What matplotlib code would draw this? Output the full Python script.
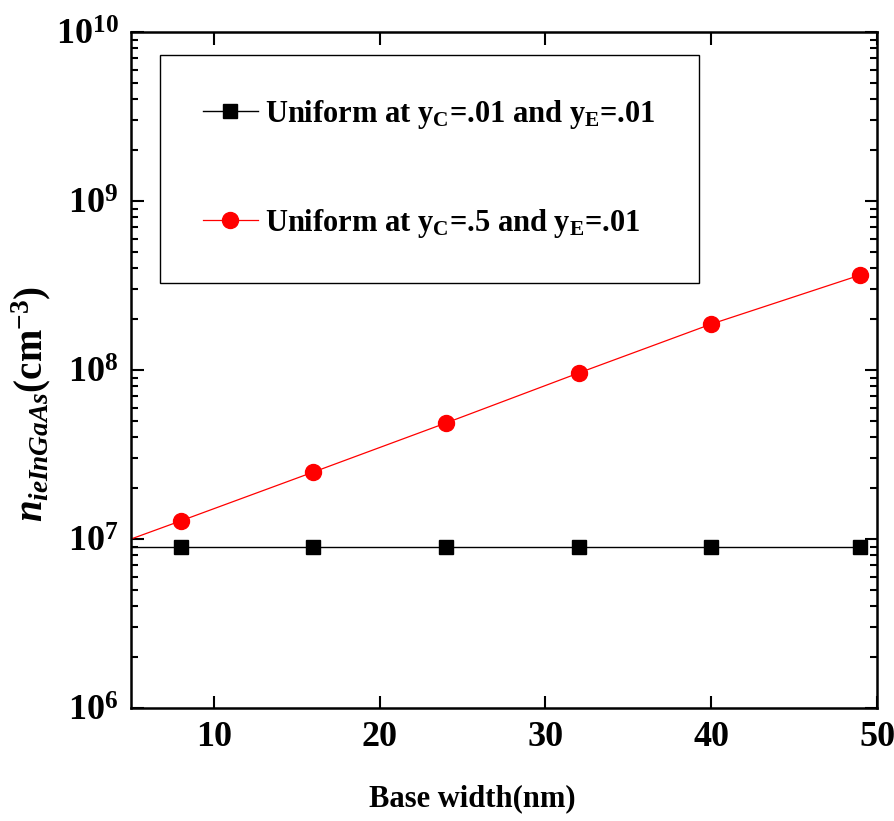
import matplotlib.pyplot as plt
from matplotlib.ticker import LogLocator, NullFormatter, MultipleLocator

plt.rcParams['font.family'] = ['Liberation Serif', 'DejaVu Serif']
plt.rcParams['font.weight'] = 'bold'
plt.rcParams['mathtext.fontset'] = 'custom'
plt.rcParams['mathtext.rm'] = 'Liberation Serif:bold'
plt.rcParams['mathtext.bf'] = 'Liberation Serif:bold'
plt.rcParams['mathtext.it'] = 'Liberation Serif:italic:bold'

# base width (nm); the first point (x=5) only carries the line to the axis edge
base_width = [5, 8, 16, 24, 32, 40, 49]
n_uniform_01 = [9.0e6, 9.0e6, 9.0e6, 9.0e6, 9.0e6, 9.0e6, 9.0e6]
n_uniform_05 = [1.0e7, 1.28e7, 2.49e7, 4.86e7, 9.6e7, 1.87e8, 3.65e8]

fig = plt.figure(figsize=(8.94, 8.21), dpi=100)
ax = fig.add_axes([0.1465, 0.1376, 0.8345, 0.8234])

ax.plot(base_width, n_uniform_01, color='black', lw=1.0, marker='s', ms=9.5,
        markevery=range(1, len(base_width)),
        label=r'Uniform at y$_{\mathbf{C}}$=.01 and y$_{\mathbf{E}}$=.01')
ax.plot(base_width, n_uniform_05, color='red', lw=0.9, marker='o', ms=11.5,
        markevery=range(1, len(base_width)),
        label=r'Uniform at y$_{\mathbf{C}}$=.5 and y$_{\mathbf{E}}$=.01')

ax.set_yscale('log')
ax.set_xlim(5, 50)
ax.set_ylim(1e6, 1e10)
ax.xaxis.set_major_locator(MultipleLocator(10))
ax.yaxis.set_major_locator(LogLocator(base=10, numticks=10))
ax.yaxis.set_minor_locator(LogLocator(base=10, subs=range(2, 10), numticks=20))
ax.yaxis.set_minor_formatter(NullFormatter())

ax.tick_params(which='both', direction='in', top=True, right=True, width=1.5)
ax.tick_params(which='major', length=9, labelsize=26, pad=9)
ax.tick_params(which='minor', length=5)
for s in ax.spines.values():
    s.set_linewidth(1.8)

ax.set_xlabel('Base width(nm)', fontsize=22, fontweight='bold')
ax.xaxis.set_label_coords(0.457, -0.112)
ax.set_ylabel(r'$n_{ieInGaAs}$(cm$^{-3}$)', fontsize=28, fontweight='bold')
ax.yaxis.set_label_coords(-0.105, 0.45)

leg = ax.legend(loc='upper left', bbox_to_anchor=(0.039, 0.966), fontsize=22,
                frameon=True, fancybox=False, edgecolor='black', framealpha=1,
                handlelength=1.8, labelspacing=2.5, borderpad=1.4, handletextpad=0.25,
                borderaxespad=0)
leg.get_frame().set_linewidth(1.0)

plt.savefig('out.png', dpi=100)
